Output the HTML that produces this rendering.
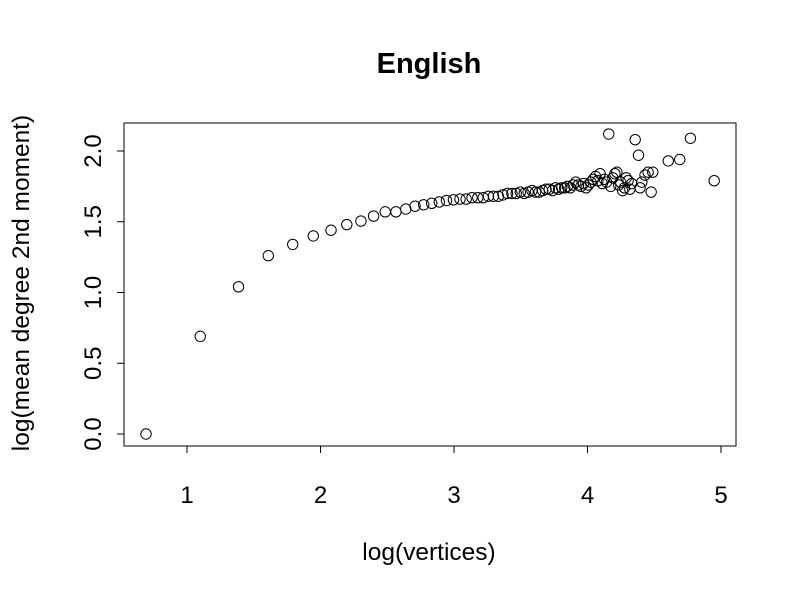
<!DOCTYPE html>
<html><head><meta charset="utf-8"><style>
body{margin:0;background:#fff}
svg text{font-family:"Liberation Sans",Arial,sans-serif;fill:#000}
</style></head><body>
<svg id="chart" width="800" height="600" xmlns="http://www.w3.org/2000/svg">
<rect width="800" height="600" fill="#fff"/>
<text x="429" y="73" text-anchor="middle" font-size="29" font-weight="bold">English</text>
<rect x="124" y="123" width="612" height="323" fill="none" stroke="#000"/>
<text x="429" y="560" text-anchor="middle" font-size="24.5">log(vertices)</text>
<text transform="translate(29,283) rotate(-90)" text-anchor="middle" font-size="24.5">log(mean degree 2nd moment)</text>
<g id="xaxis"></g>
<g id="yaxis"></g>
<g id="pts"></g>
</svg>
<script>
const xVals=[0.693,1.099,1.386,1.609,1.792,1.946,2.079,2.197,2.303,2.398,2.485,2.565,2.639,2.708,2.773,2.833,2.890,2.944,2.996,3.045,3.091,3.135,3.178,3.219,3.258,3.296,3.332,3.367,3.401,3.434,3.466,3.497,3.526,3.555,3.584,3.611,3.638,3.664,3.689,3.714,3.738,3.761,3.784,3.807,3.829,3.850,3.871,3.892,3.912,3.932,3.951,3.970,3.989,4.007,4.025,4.043,4.060,4.078,4.094,4.111,4.127,4.143,4.159,4.174,4.190,4.205,4.220,4.234,4.248,4.263,4.277,4.290,4.304,4.317,4.331,4.357,4.382,4.394,4.407,4.431,4.454,4.477,4.489,4.605,4.691,4.771,4.949];
const yVals=[0.00,0.69,1.04,1.26,1.34,1.40,1.44,1.48,1.505,1.54,1.57,1.57,1.59,1.61,1.62,1.63,1.64,1.65,1.655,1.66,1.66,1.67,1.67,1.67,1.68,1.68,1.68,1.69,1.70,1.70,1.70,1.71,1.70,1.71,1.72,1.71,1.71,1.72,1.73,1.73,1.72,1.74,1.73,1.74,1.74,1.75,1.74,1.76,1.78,1.76,1.75,1.77,1.74,1.76,1.78,1.80,1.82,1.79,1.84,1.77,1.80,1.78,2.12,1.75,1.81,1.84,1.85,1.76,1.78,1.72,1.74,1.81,1.79,1.73,1.77,2.08,1.97,1.74,1.78,1.83,1.85,1.71,1.85,1.93,1.94,2.09,1.79];
const xTicks=[1,2,3,4,5];
const yTicks=[0,0.5,1,1.5,2];
const yTickLabels=["0.0","0.5","1.0","1.5","2.0"];
const NS="http://www.w3.org/2000/svg";
const sx=v=>187+(v-1)*133.5;
const sy=v=>434-v*141.5;
function mk(t,a,p){const e=document.createElementNS(NS,t);for(const k in a)e.setAttribute(k,a[k]);p.appendChild(e);return e;}
const xg=document.getElementById('xaxis'),yg=document.getElementById('yaxis'),pg=document.getElementById('pts');
mk('line',{x1:sx(1),x2:sx(5),y1:446,y2:446,stroke:'#000'},xg);
xTicks.forEach(t=>{
 mk('line',{x1:sx(t),x2:sx(t),y1:446,y2:453,stroke:'#000'},xg);
 const tx=mk('text',{x:sx(t),y:503,'text-anchor':'middle','font-size':'24'},xg);
 
 
 tx.textContent=t;
});
mk('line',{x1:124,x2:124,y1:sy(0),y2:sy(2),stroke:'#000'},yg);
yTicks.forEach((t,i)=>{
 mk('line',{x1:117,x2:124,y1:sy(t),y2:sy(t),stroke:'#000'},yg);
 const tx=mk('text',{transform:`translate(101,${sy(t)}) rotate(-90)`,'text-anchor':'middle','font-size':'24'},yg);
 
 
 tx.textContent=yTickLabels[i];
});
xVals.forEach((x,i)=>{
 const c=mk('circle',{cx:sx(x),cy:sy(yVals[i]),r:5.2,fill:'none',stroke:'#000','stroke-width':1},pg);
 
 
});
</script>
</body></html>
